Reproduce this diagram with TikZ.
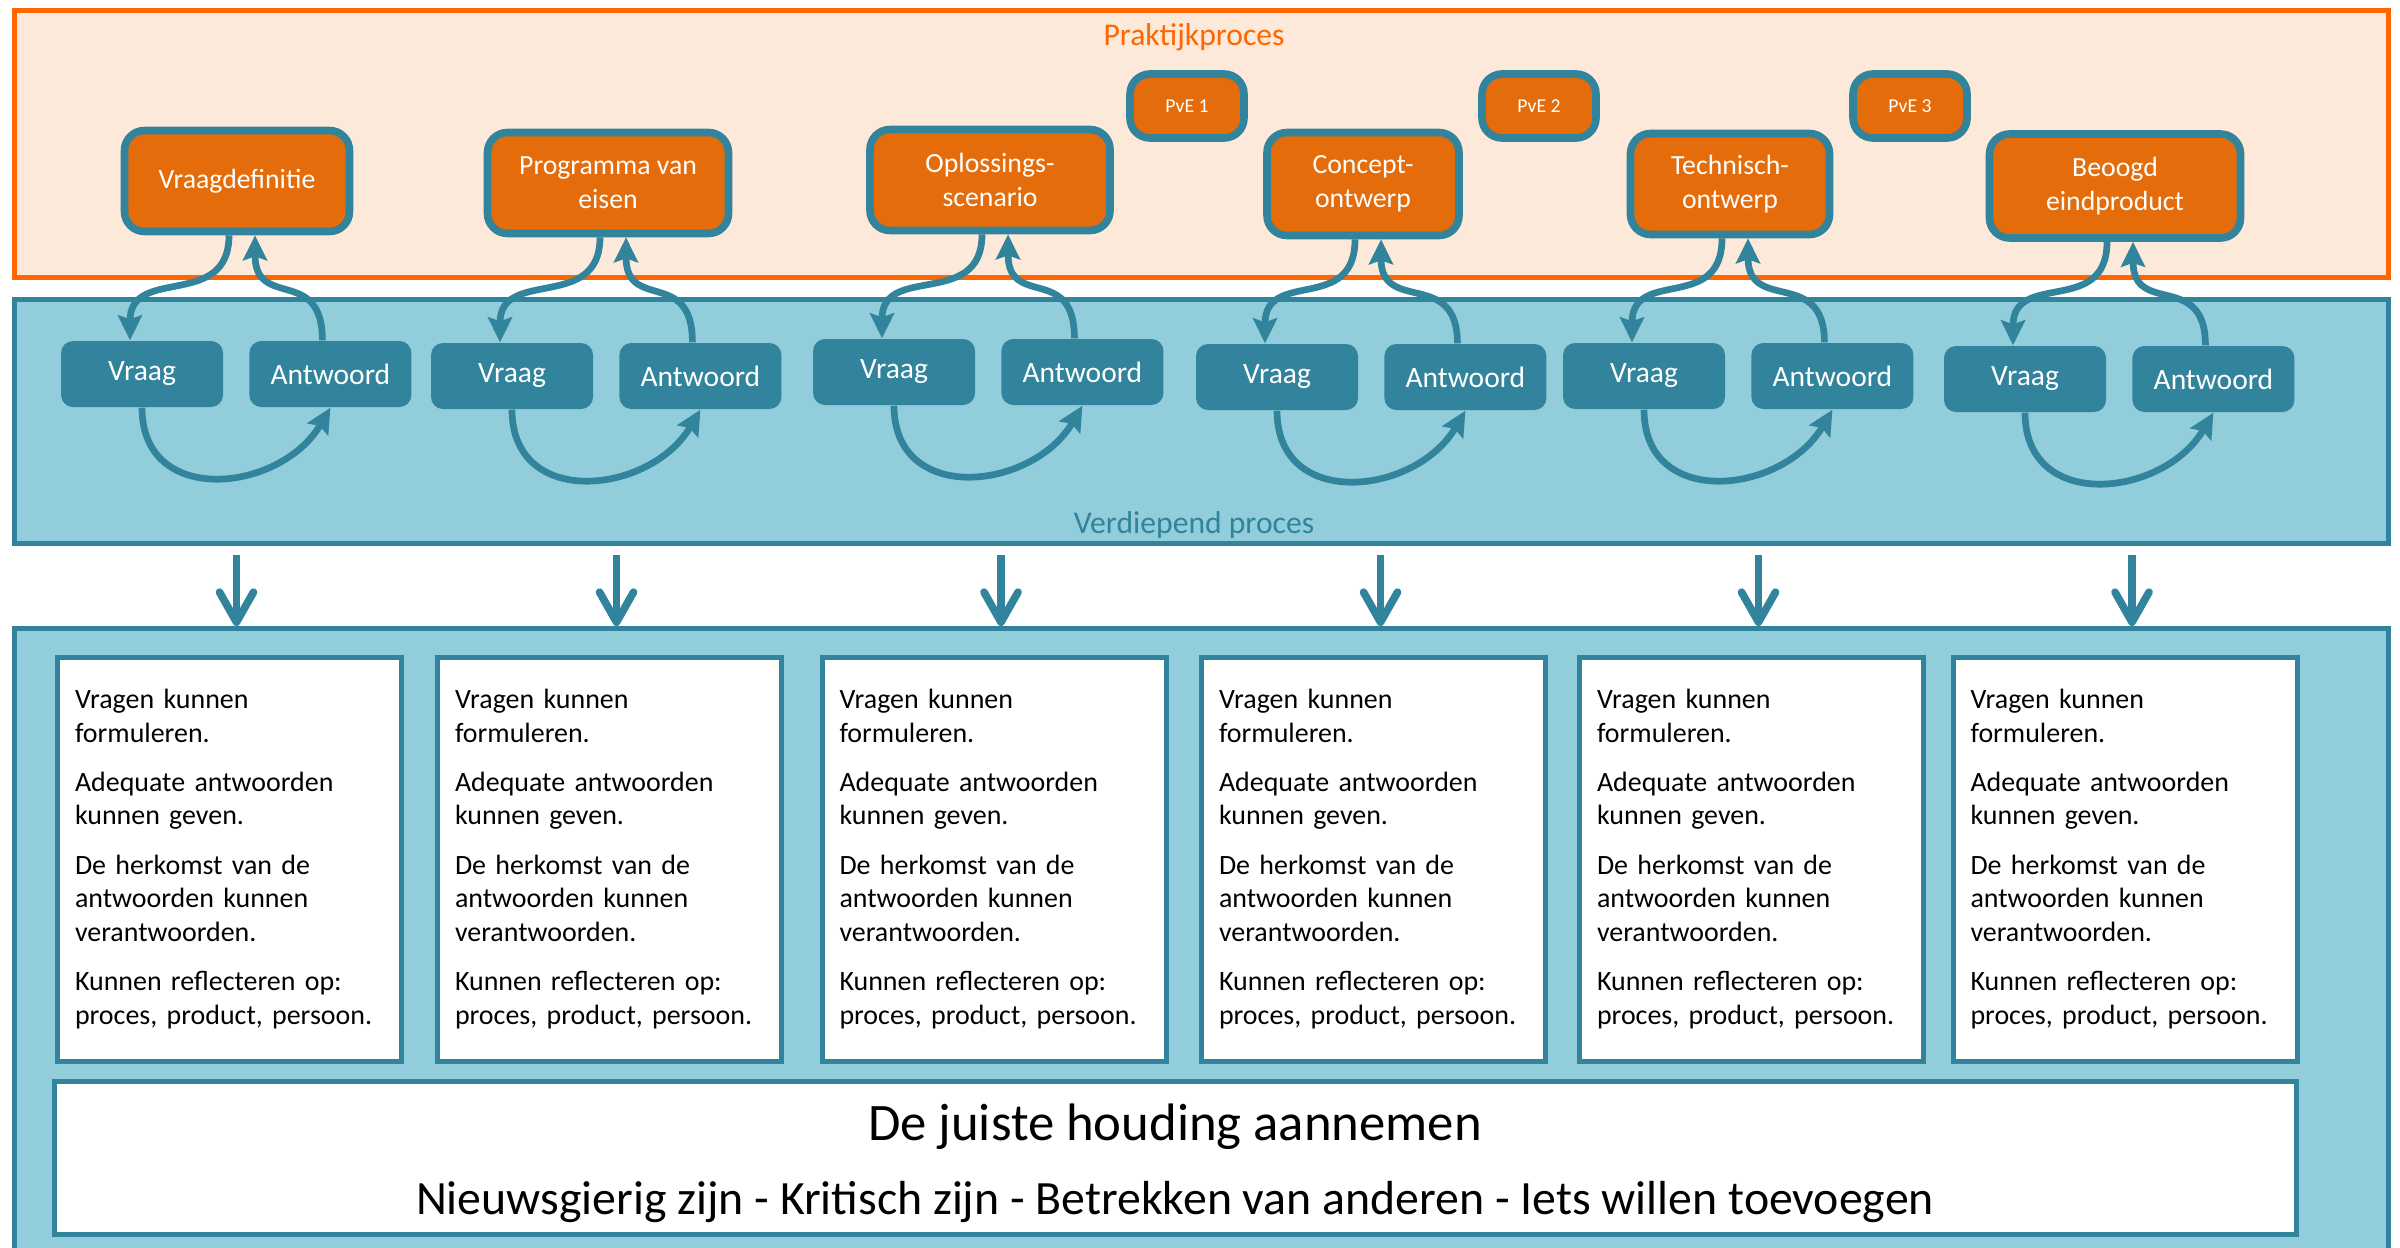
\documentclass[tikz,border=0pt]{standalone}
\usepackage{fontspec}
\setmainfont{Carlito}
\usetikzlibrary{arrows.meta,positioning}

\definecolor{oranjerand}{RGB}{255,102,0}
\definecolor{perzik}{RGB}{253,233,217}
\definecolor{oranje}{RGB}{228,108,10}
\definecolor{petrol}{RGB}{49,132,155}
\definecolor{lichtblauw}{RGB}{146,205,220}

\newcommand{\leerdoelen}{Vragen kunnen\\formuleren.\\[4.4pt]Adequate antwoorden\\kunnen geven.\\[4.4pt]De herkomst van de\\antwoorden kunnen\\verantwoorden.\\[4.4pt]Kunnen reflecteren op:\\proces, product, persoon.}

\tikzset{
  vlak/.style={line width=0.05cm, inner sep=0pt, minimum width=23.74cm},
  fase/.style={draw=petrol, line width=0.076cm, fill=oranje, rounded corners=0.2cm,
    text=white, align=center, inner sep=0pt, minimum height=1.01cm,
    font=\fontsize{7.9}{9.6}\selectfont},
  pve/.style={fase, minimum width=1.14cm, minimum height=0.64cm,
    font=\fontsize{5.6}{6.7}\selectfont},
  stap/.style={fill=petrol, rounded corners=0.12cm, text=white, inner sep=0pt,
    minimum width=1.62cm, minimum height=0.66cm, font=\fontsize{8.4}{10}\selectfont},
  doel/.style={draw=petrol, line width=0.05cm, fill=white, align=left,
    text width=3.09cm, inner xsep=0.175cm, inner ysep=0pt, minimum height=4.04cm,
    font=\fontsize{7.95}{9.6}\selectfont},
  lus/.style={draw=petrol, line width=0.067cm,
    -{Stealth[length=0.25cm,width=0.24cm,inset=0.04cm]}},
  neer/.style={draw=petrol, line width=0.077cm,
    -{Straight Barb[round,length=0.3cm,width=0.34cm]}, shorten <=0.09cm},
}

\begin{document}
\begin{tikzpicture}
  \useasboundingbox (0,0) rectangle (24,-12.47);

  % de drie vlakken
  \node[vlak, draw=oranjerand, fill=perzik, minimum height=2.67cm] (prak) at (12.015,-1.44) {};
  \node[vlak, draw=petrol, fill=lichtblauw, minimum height=2.44cm] (verd) at (12.015,-4.215) {};
  \node[vlak, draw=petrol, fill=lichtblauw, minimum height=6.715cm] (leer) at (12.015,-9.6425) {};
  \node[text=oranjerand, font=\fontsize{9}{11}\selectfont] (praktitel) at (11.94,-0.37) {Praktijkproces};
  \node[text=petrol, font=\fontsize{9}{11}\selectfont] (verdtitel) at (11.94,-5.25) {Verdiepend proces};

  % fasen van het praktijkproces
  \node[fase, minimum width=2.25cm] (T1) at (2.37,-1.81) {Vraagdefinitie};
  \node[fase, minimum width=2.41cm] (T2) at (6.08,-1.83) {Programma van\\eisen};
  \node[fase, minimum width=2.40cm] (T3) at (9.90,-1.80) {Oplossings-\\scenario};
  \node[fase, minimum width=1.92cm, minimum height=1.03cm] (T4) at (13.63,-1.84) {Concept-\\ontwerp};
  \node[fase, minimum width=1.99cm] (T5) at (17.30,-1.84) {Technisch-\\ontwerp};
  \node[fase, minimum width=2.51cm, minimum height=1.04cm] (T6) at (21.15,-1.86) {Beoogd\\eindproduct};
  \node[pve] (pve1) at (11.87,-1.06) {PvE 1};
  \node[pve] (pve2) at (15.39,-1.06) {PvE 2};
  \node[pve] (pve3) at (19.10,-1.06) {PvE 3};

  % vraag en antwoord
  \foreach \i/\x/\y in {1/1.42/-3.74, 2/5.12/-3.76, 3/8.94/-3.72,
                        4/12.77/-3.77, 5/16.44/-3.76, 6/20.25/-3.79} {
    \node[stap] (V\i) at (\x,\y) {Vraag};
    \node[stap, right=0.25cm of V\i] (A\i) {Antwoord};
    \draw[lus] ([xshift=-0.08cm]T\i.south) .. controls +(0,-0.75) and +(0,0.75) .. ([xshift=-0.12cm]V\i.north);
    \draw[lus] ([xshift=-0.08cm]A\i.north) .. controls +(0,0.75) and +(0,-0.75) .. ([xshift=0.18cm]T\i.south);
    \draw[lus] (V\i.south) .. controls +(0,-1.0) and +(-0.5,-0.85) .. (A\i.south);
  }

  % leerdoelen
  \foreach \i/\x in {1/2.295, 2/6.095, 3/9.94, 4/13.735, 5/17.515, 6/21.25} {
    \node[doel] (P\i) at (\x,-8.59) {\leerdoelen};
    \path (P\i.north) ++(0.07,0) coordinate (pijl\i);
    \draw[neer] (verd.south -| pijl\i) -- (leer.north -| pijl\i);
  }

  % houding
  \node[draw=petrol, line width=0.05cm, fill=white, inner sep=0pt,
    minimum width=22.42cm, minimum height=1.53cm] (houding) at (11.755,-11.58) {};
  \node[font=\fontsize{15}{18}\selectfont] (houding1) at (11.75,-11.265) {De juiste houding aannemen};
  \node[font=\fontsize{13.6}{16.3}\selectfont] (houding2) at (11.75,-12.015) {Nieuwsgierig zijn - Kritisch zijn - Betrekken van anderen - Iets willen toevoegen};
\end{tikzpicture}
\end{document}
